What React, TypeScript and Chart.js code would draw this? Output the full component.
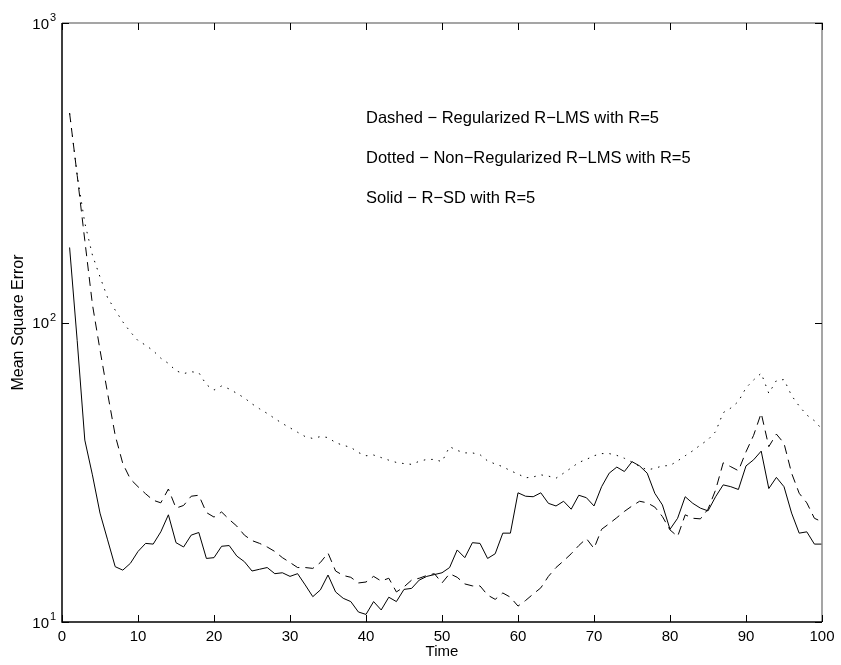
import React, { useEffect, useRef } from "react";
import { Chart, registerables } from "chart.js";

Chart.register(...registerables);

// ---- data ----
const time: number[] = Array.from({ length: 100 }, (_, i) => i + 1);

const solidRSD: number[] = [
  178, 87, 40.5, 31, 23.1, 18.8, 15.3, 14.9, 15.7, 17.2,
  18.3, 18.2, 20.0, 22.8, 18.4, 17.8, 19.5, 19.9, 16.3, 16.4,
  17.9, 18.0, 16.6, 15.9, 14.8, 15.0, 15.2, 14.5, 14.6, 14.2,
  14.5, 13.3, 12.15, 12.8, 14.35, 12.6, 12.0, 11.7, 10.8, 10.6,
  11.7, 10.97, 12.1, 11.7, 12.85, 12.95, 13.8, 14.2, 14.4, 14.6,
  15.2, 17.4, 16.4, 18.4, 18.3, 16.3, 16.9, 19.8, 19.8, 27.0,
  26.3, 26.2, 27.0, 24.9, 24.4, 25.3, 23.8, 26.5, 26.0, 24.4,
  28.3, 31.4, 32.9, 31.8, 34.3, 33.2, 31.4, 26.9, 24.6, 20.4,
  22.2, 26.2, 24.9, 24.0, 23.5, 26.2, 28.7, 28.3, 27.7, 33.2,
  34.8, 37.2, 27.9, 30.4, 28.3, 23.1, 19.8, 20.0, 18.2, 18.2,
];

const dashedRegularizedRLMS: number[] = [
  500, 310, 188, 115, 81, 58, 42, 33.8, 30, 28.3,
  26.8, 25.5, 25.0, 27.8, 24.0, 24.5, 26.3, 26.5, 23.2, 22.4,
  23.3, 22.0, 20.9, 19.5, 18.7, 18.3, 17.8, 17.2, 16.4, 15.8,
  15.2, 15.2, 15.1, 15.8, 17.0, 14.8, 14.3, 14.1, 13.5, 13.6,
  14.2, 13.7, 14.0, 12.6, 13.1, 13.8, 14.0, 14.3, 14.5, 13.5,
  14.5, 14.1, 13.4, 13.2, 13.2, 12.3, 11.9, 12.5, 12.1, 11.3,
  11.8, 12.4, 13.0, 14.2, 15.2, 16.0, 16.9, 18.0, 19.0, 17.6,
  20.4, 21.3, 22.3, 23.4, 24.4, 25.3, 25.0, 24.2, 22.5, 20.3,
  19.3, 22.8, 22.2, 22.1, 23.8, 27.6, 34.0, 33.0, 32.0, 37.0,
  42.0, 49.8, 38.5, 42.4, 39.5, 31.4, 26.9, 25.0, 22.2, 21.6,
];

const dottedNonRegularizedRLMS: number[] = [
  500, 310, 215, 168, 142, 121, 110, 100.5, 93, 87,
  84, 80.5, 76, 73, 69, 67.5, 68.5, 68, 62, 59.5,
  61.4, 60, 58, 56, 53.5, 51.5, 49.7, 47.8, 46, 44.5,
  43, 41.6, 41, 41.6, 41.3, 39.7, 38.9, 38.3, 36.8, 35.9,
  36.1, 35.4, 34.7, 34.1, 33.8, 33.6, 34.4, 34.9, 34.9, 34.3,
  38.5, 37.4, 36.7, 36.7, 36.2, 34.5, 33.7, 33.0, 32.0, 31.2,
  30.3, 30.5, 31.0, 30.7, 30.2, 31.4, 32.7, 34.1, 34.9, 35.9,
  36.5, 36.5, 36.0, 35.2, 34.2, 33.1, 32.2, 32.6, 33.2, 33.3,
  34.5, 35.9, 37.3, 39.0, 40.6, 43.2, 50, 51.8, 54.5, 60.5,
  64.3, 67.7, 58, 64, 64.5, 57, 52.6, 49.1, 47, 44,
];

const xTicks: number[] = [0, 10, 20, 30, 40, 50, 60, 70, 80, 90, 100];
const yTicks: number[] = [10, 100, 1000];
const yTickBase = "10";
const yTickExponents: string[] = ["1", "2", "3"];

const annotationLines: string[] = [
  "Dashed \u2212 Regularized R\u2212LMS with R=5",
  "Dotted \u2212 Non\u2212Regularized R\u2212LMS with R=5",
  "Solid \u2212 R\u2212SD with R=5",
];
const annotationX = 40; // in data units (Time)
const annotationY: number[] = [480, 352, 259]; // in data units (MSE)

const FONT = '"Liberation Sans", Arial, Helvetica, sans-serif';

const framePlugin = {
  id: "matlabFrame",
  afterDraw(chart: any) {
    const { ctx, chartArea } = chart;
    const { left, right, top, bottom } = chartArea;
    const xs = chart.scales.x;
    const ys = chart.scales.y;
    ctx.save();
    // frame
    ctx.lineWidth = 1.5;
    ctx.strokeStyle = "#888";
    ctx.beginPath();
    ctx.moveTo(left, top);
    ctx.lineTo(right, top);
    ctx.lineTo(right, bottom);
    ctx.stroke();
    ctx.strokeStyle = "#000";
    ctx.beginPath();
    ctx.moveTo(left, top);
    ctx.lineTo(left, bottom);
    ctx.lineTo(right, bottom);
    ctx.stroke();

    // inward ticks
    const tl = 7;
    ctx.lineWidth = 1;
    ctx.strokeStyle = "#000";
    ctx.beginPath();
    xTicks.forEach((v) => {
      const px = Math.round(xs.getPixelForValue(v)) + 0.5;
      ctx.moveTo(px, bottom);
      ctx.lineTo(px, bottom - tl);
      ctx.moveTo(px, top);
      ctx.lineTo(px, top + tl);
    });
    yTicks.forEach((v) => {
      const py = Math.round(ys.getPixelForValue(v)) + 0.5;
      ctx.moveTo(left, py);
      ctx.lineTo(left + tl, py);
      ctx.moveTo(right, py);
      ctx.lineTo(right - tl, py);
    });
    ctx.stroke();

    // y tick labels with superscript exponent
    ctx.fillStyle = "#000";
    yTicks.forEach((v, i) => {
      const py = ys.getPixelForValue(v);
      ctx.font = `15px ${FONT}`;
      ctx.textAlign = "right";
      ctx.textBaseline = "alphabetic";
      ctx.fillText(yTickBase, left - 13, py + 5.5);
      ctx.font = `11px ${FONT}`;
      ctx.textAlign = "left";
      ctx.fillText(yTickExponents[i], left - 12, py - 2);
    });

    // annotation texts
    ctx.font = `16.5px ${FONT}`;
    ctx.textAlign = "left";
    ctx.textBaseline = "middle";
    annotationLines.forEach((t, i) => {
      ctx.fillText(t, xs.getPixelForValue(annotationX), ys.getPixelForValue(annotationY[i]));
    });
    ctx.restore();
  },
};

export default function App() {
  const canvasRef = useRef<HTMLCanvasElement | null>(null);

  useEffect(() => {
    const canvas = canvasRef.current;
    if (!canvas) return;
    const mk = (vals: number[]) => time.map((t, i) => ({ x: t, y: vals[i] }));
    const chart = new Chart(canvas, {
      type: "line",
      data: {
        datasets: [
          {
            label: "Regularized R-LMS",
            data: mk(dashedRegularizedRLMS),
            borderColor: "#000",
            borderWidth: 1,
            borderDash: [9, 6],
            pointRadius: 0,
            fill: false,
            tension: 0,
          },
          {
            label: "Non-Regularized R-LMS",
            data: mk(dottedNonRegularizedRLMS),
            borderColor: "#000",
            borderWidth: 1,
            borderDash: [1.5, 6],
            pointRadius: 0,
            fill: false,
            tension: 0,
          },
          {
            label: "R-SD",
            data: mk(solidRSD),
            borderColor: "#000",
            borderWidth: 1,
            pointRadius: 0,
            fill: false,
            tension: 0,
          },
        ],
      },
      options: {
        responsive: false,
        animation: false,
        events: [],
        layout: { padding: { top: 23, right: 19, left: 0, bottom: 0 } },
        plugins: {
          legend: { display: false },
          tooltip: { enabled: false },
          title: { display: false },
        },
        scales: {
          x: {
            type: "linear",
            min: 0,
            max: 100,
            afterBuildTicks: (scale: any) => {
              scale.ticks = xTicks.map((v) => ({ value: v }));
            },
            afterFit: (scale: any) => {
              scale.height = 43;
            },
            grid: { display: false, drawTicks: false },
            border: { display: false },
            ticks: {
              color: "#000",
              font: { size: 15, family: FONT },
              padding: 6,
              maxRotation: 0,
              autoSkip: false,
            },
            title: {
              display: true,
              text: "Time",
              color: "#000",
              font: { size: 15, family: FONT },
              padding: { top: 0, bottom: 4 },
            },
          },
          y: {
            type: "logarithmic",
            min: 10,
            max: 1000,
            afterBuildTicks: (scale: any) => {
              scale.ticks = yTicks.map((v) => ({ value: v }));
            },
            afterFit: (scale: any) => {
              scale.width = 62;
            },
            grid: { display: false, drawTicks: false },
            border: { display: false },
            ticks: { display: false },
            title: {
              display: true,
              text: "Mean Square Error",
              color: "#000",
              font: { size: 16, family: FONT },
              padding: { top: 9, bottom: 0 },
            },
          },
        },
      },
      plugins: [framePlugin],
    });
    return () => chart.destroy();
  }, []);

  return (
    <div style={{ position: "absolute", left: 0, top: 0, width: 841, height: 665, background: "#fff" }}>
      <canvas ref={canvasRef} width={841} height={665} style={{ display: "block" }} />
    </div>
  );
}
